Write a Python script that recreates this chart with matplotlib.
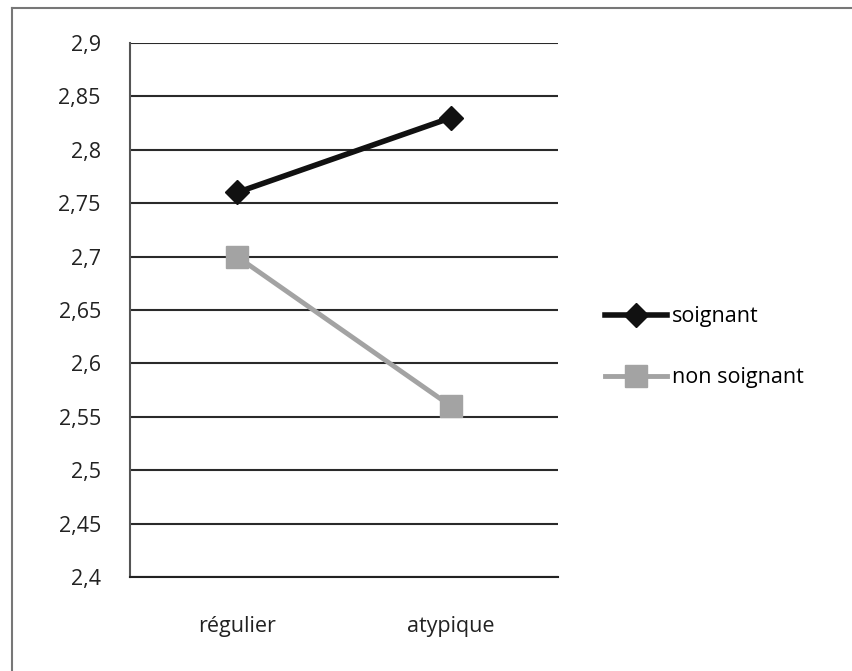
import matplotlib
matplotlib.use("Agg")
import matplotlib.pyplot as plt
from matplotlib.lines import Line2D
from matplotlib.ticker import FuncFormatter

categories = ["régulier", "atypique"]
soignant = [2.76, 2.83]
non_soignant = [2.70, 2.56]
yticks = [2.4, 2.45, 2.5, 2.55, 2.6, 2.65, 2.7, 2.75, 2.8, 2.85, 2.9]

plt.rcParams['font.family'] = ['Open Sans', 'DejaVu Sans']

fig = plt.figure(figsize=(8.52, 6.71), dpi=100)
ax = fig.add_axes([0.1526, 0.140, 0.5023, 0.796])

x = list(range(len(categories)))
ax.plot(x, soignant, color="#111111", lw=4, marker="D", ms=12,
        label="soignant", zorder=4)
ax.plot(x, non_soignant, color="#a3a3a3", lw=3.5, marker="s", ms=16,
        label="non soignant", zorder=3)

ax.set_xlim(-0.5, 1.5)
ax.set_ylim(2.4, 2.9)
ax.set_yticks(yticks)
ax.yaxis.set_major_formatter(FuncFormatter(lambda v, p: f"{v:g}".replace(".", ",")))
ax.set_xticks(x)
ax.set_xticklabels(categories)
ax.tick_params(axis="both", length=0, labelsize=15.5, colors="#222222")
ax.tick_params(axis="y", pad=21)
ax.tick_params(axis="x", pad=28)
ax.grid(axis="y", color="#2a2a2a", lw=1.5)
ax.set_axisbelow(True)
for s in ["top", "right"]:
    ax.spines[s].set_visible(False)
ax.spines["left"].set_color("#555555")
ax.spines["left"].set_linewidth(1.5)
ax.spines["bottom"].set_color("#222222")
ax.spines["bottom"].set_linewidth(1.5)

ax.legend(loc="center left", bbox_to_anchor=(1.110, 0.430), frameon=False,
          fontsize=15.5, handlelength=2.9, handletextpad=0.2, labelspacing=1.85,
          borderpad=0, borderaxespad=0)

# scanned page border (top and left edges)
fig.add_artist(Line2D([0.014, 1.0], [0.988, 0.988], color="#777777", lw=1.5))
fig.add_artist(Line2D([0.014, 0.014], [0.0, 0.988], color="#777777", lw=1.5))

fig.savefig("out.png", dpi=100)
